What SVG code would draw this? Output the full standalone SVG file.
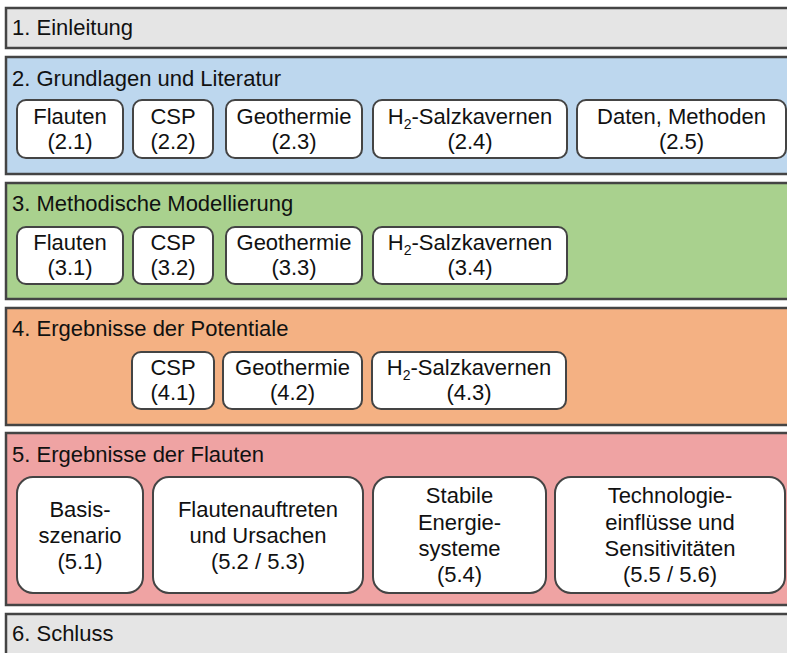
<svg xmlns="http://www.w3.org/2000/svg" width="787" height="653" viewBox="0 0 787 653">
<style>
.band{stroke:#444;stroke-width:2.5}
.box{fill:#fff;stroke:#444;stroke-width:2}
text{font-family:"Liberation Sans",Arial,sans-serif;font-size:22px;fill:#111}
.c{text-anchor:middle}
.sub{font-size:14px}
</style>
<rect width="787" height="653" fill="#fff"/>
<g id="s1">
<rect class="band" x="6" y="8" width="800" height="40" fill="#e5e5e5"/>
<text x="12" y="35">1. Einleitung</text>
</g>
<g id="s2">
<rect class="band" x="6" y="57" width="800" height="117" fill="#bdd7ee"/>
<text x="12" y="86">2. Grundlagen und Literatur</text>
<g id="n21"><rect class="box" x="17" y="100" width="106" height="58" rx="9"/><text class="c" x="70" y="124">Flauten</text><text class="c" x="70" y="149">(2.1)</text></g>
<g id="n22"><rect class="box" x="133" y="100" width="80" height="58" rx="9"/><text class="c" x="173" y="124">CSP</text><text class="c" x="173" y="149">(2.2)</text></g>
<g id="n23"><rect class="box" x="226" y="100" width="136" height="58" rx="9"/><text class="c" x="294" y="124">Geothermie</text><text class="c" x="294" y="149">(2.3)</text></g>
<g id="n24"><rect class="box" x="373" y="100" width="194" height="58" rx="9"/><text class="c" x="470" y="124">H<tspan class="sub" dy="5">2</tspan><tspan dy="-5">-Salzkavernen</tspan></text><text class="c" x="470" y="149">(2.4)</text></g>
<g id="n25"><rect class="box" x="577" y="100" width="209" height="58" rx="9"/><text class="c" x="681.5" y="124">Daten, Methoden</text><text class="c" x="681.5" y="149">(2.5)</text></g>
</g>
<g id="s3">
<rect class="band" x="6" y="183" width="800" height="116" fill="#a9d18e"/>
<text x="12" y="211">3. Methodische Modellierung</text>
<g id="n31"><rect class="box" x="17" y="227" width="106" height="57" rx="9"/><text class="c" x="70" y="250">Flauten</text><text class="c" x="70" y="275">(3.1)</text></g>
<g id="n32"><rect class="box" x="133" y="227" width="80" height="57" rx="9"/><text class="c" x="173" y="250">CSP</text><text class="c" x="173" y="275">(3.2)</text></g>
<g id="n33"><rect class="box" x="226" y="227" width="136" height="57" rx="9"/><text class="c" x="294" y="250">Geothermie</text><text class="c" x="294" y="275">(3.3)</text></g>
<g id="n34"><rect class="box" x="373" y="227" width="194" height="57" rx="9"/><text class="c" x="470" y="250">H<tspan class="sub" dy="5">2</tspan><tspan dy="-5">-Salzkavernen</tspan></text><text class="c" x="470" y="275">(3.4)</text></g>
</g>
<g id="s4">
<rect class="band" x="6" y="308" width="800" height="117" fill="#f4b183"/>
<text x="12" y="336">4. Ergebnisse der Potentiale</text>
<g id="n41"><rect class="box" x="132" y="352" width="82" height="57" rx="9"/><text class="c" x="173" y="375">CSP</text><text class="c" x="173" y="400">(4.1)</text></g>
<g id="n42"><rect class="box" x="223" y="352" width="139" height="57" rx="9"/><text class="c" x="292.5" y="375">Geothermie</text><text class="c" x="292.5" y="400">(4.2)</text></g>
<g id="n43"><rect class="box" x="372" y="352" width="194" height="57" rx="9"/><text class="c" x="469" y="375">H<tspan class="sub" dy="5">2</tspan><tspan dy="-5">-Salzkavernen</tspan></text><text class="c" x="469" y="400">(4.3)</text></g>
</g>
<g id="s5">
<rect class="band" x="6" y="433" width="800" height="172" fill="#efa3a3"/>
<text x="12" y="462">5. Ergebnisse der Flauten</text>
<g id="n51"><rect class="box" x="17" y="477" width="126" height="116" rx="16"/><text class="c" x="80" y="517">Basis-</text><text class="c" x="80" y="543">szenario</text><text class="c" x="80" y="569">(5.1)</text></g>
<g id="n52"><rect class="box" x="153" y="477" width="210" height="116" rx="16"/><text class="c" x="258" y="517">Flautenauftreten</text><text class="c" x="258" y="543">und Ursachen</text><text class="c" x="258" y="569">(5.2 / 5.3)</text></g>
<g id="n54"><rect class="box" x="373" y="477" width="173" height="116" rx="16"/><text class="c" x="459.5" y="503">Stabile</text><text class="c" x="459.5" y="530">Energie-</text><text class="c" x="459.5" y="556">systeme</text><text class="c" x="459.5" y="582">(5.4)</text></g>
<g id="n55"><rect class="box" x="555" y="477" width="230" height="116" rx="16"/><text class="c" x="670" y="503">Technologie-</text><text class="c" x="670" y="530">einflüsse und</text><text class="c" x="670" y="556">Sensitivitäten</text><text class="c" x="670" y="582">(5.5 / 5.6)</text></g>
</g>
<g id="s6">
<rect class="band" x="6" y="614" width="800" height="60" fill="#e5e5e5"/>
<text x="12" y="641">6. Schluss</text>
</g>
<g id="connectors"/>
</svg>
